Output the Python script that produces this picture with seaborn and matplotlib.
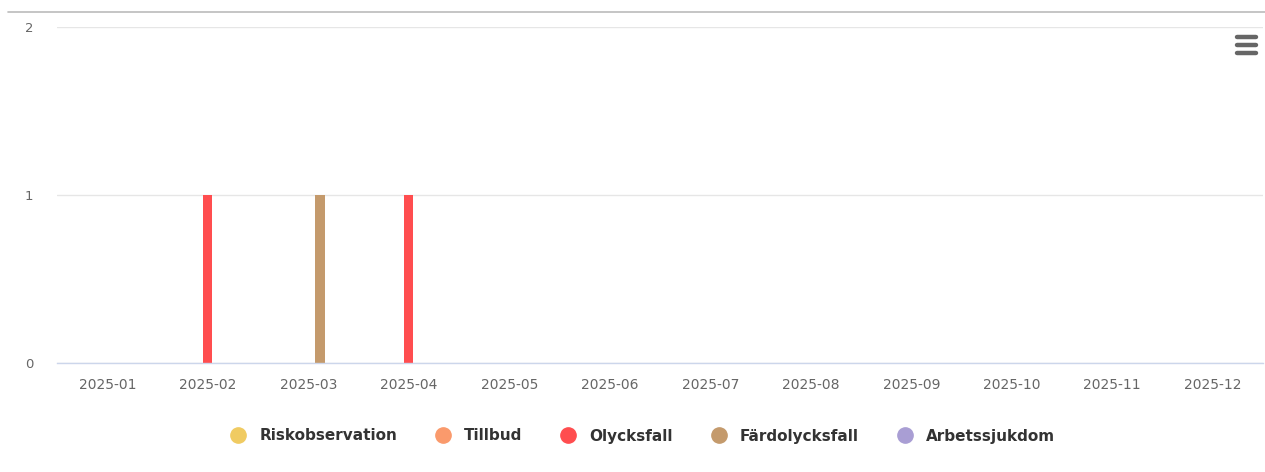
import pandas as pd
import seaborn as sns
import matplotlib.pyplot as plt
from matplotlib.lines import Line2D

# --- Data ---
months = ["2025-01", "2025-02", "2025-03", "2025-04", "2025-05", "2025-06",
          "2025-07", "2025-08", "2025-09", "2025-10", "2025-11", "2025-12"]
series_names = ["Riskobservation", "Tillbud", "Olycksfall", "Färdolycksfall", "Arbetssjukdom"]
riskobservation = [0, 0, 0, 0, 0, 0, 0, 0, 0, 0, 0, 0]
tillbud = [0, 0, 0, 0, 0, 0, 0, 0, 0, 0, 0, 0]
olycksfall = [0, 1, 0, 1, 0, 0, 0, 0, 0, 0, 0, 0]
fardolycksfall = [0, 0, 1, 0, 0, 0, 0, 0, 0, 0, 0, 0]
arbetssjukdom = [0, 0, 0, 0, 0, 0, 0, 0, 0, 0, 0, 0]
colors = ["#f0cb62", "#fa9a6c", "#ff4d4f", "#c49a6c", "#a99ed4"]

values = [riskobservation, tillbud, olycksfall, fardolycksfall, arbetssjukdom]
rows = []
for name, vals in zip(series_names, values):
    for m, v in zip(months, vals):
        rows.append({"month": m, "serie": name, "count": v})
df = pd.DataFrame(rows)

# --- Plot ---
sns.set_style("white")
plt.rcParams['font.family'] = ['DejaVu Sans']

fig = plt.figure(figsize=(12.65, 4.72), dpi=100)
ax = fig.add_axes([57 / 1265, 1 - 363 / 472, 1206 / 1265, 336 / 472])

sns.barplot(data=df, x="month", y="count", hue="serie", order=months,
            hue_order=series_names, palette=colors, width=0.58, gap=0.2,
            saturation=1, dodge=True, ax=ax, legend=False, zorder=3, linewidth=0)

ax.set_xlim(-0.5, len(months) - 0.5)
ax.set_ylim(0, 2)
ax.set_yticks([0, 1, 2])
ax.set_xlabel("")
ax.set_ylabel("")
ax.grid(axis="y", color="#e6e6e6", linewidth=1, zorder=0)
for side in ["top", "right", "left"]:
    ax.spines[side].set_visible(False)
ax.spines["bottom"].set_color("#ccd6eb")
ax.spines["bottom"].set_linewidth(1)
ax.spines["bottom"].set_zorder(4)
ax.tick_params(axis="x", length=0, pad=11, labelsize=10, labelcolor="#666666")
ax.tick_params(axis="y", length=0, pad=17, labelsize=9.5, labelcolor="#666666")

# legend
handles = [Line2D([0], [0], marker="o", linestyle="", markersize=11,
                  markerfacecolor=c, markeredgecolor=c) for c in colors]
leg = fig.legend(handles, series_names, loc="center", bbox_to_anchor=(0.508, 1 - 436 / 472),
                 ncol=5, frameon=False, handlelength=1.0, handletextpad=0.88,
                 columnspacing=2.5,
                 prop={"weight": "bold", "size": 11})
for t in leg.get_texts():
    t.set_color("#333333")

# top border line and menu icon
fig.add_artist(Line2D([8 / 1265, 1], [1 - 12 / 472] * 2, color="#bbbbbb", linewidth=1.2))
for yy in [37, 45, 53]:
    fig.add_artist(Line2D([1237 / 1265, 1256 / 1265], [1 - yy / 472] * 2, color="#666666",
                          linewidth=3.2, solid_capstyle="round"))

fig.savefig("out.png", dpi=100)
